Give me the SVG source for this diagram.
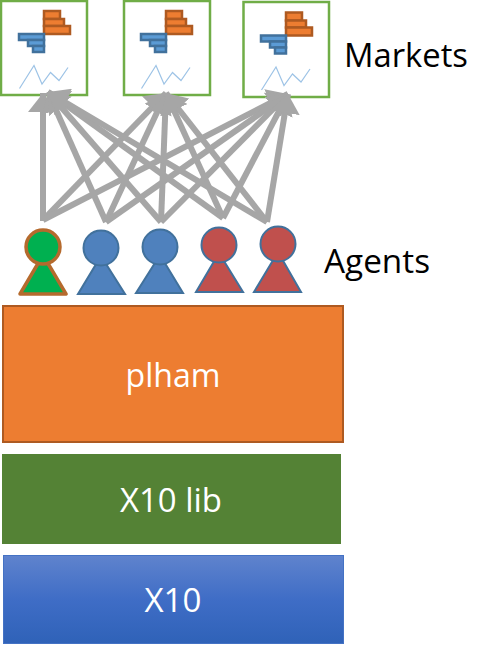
<svg xmlns="http://www.w3.org/2000/svg" xmlns:xlink="http://www.w3.org/1999/xlink" width="492" height="645" viewBox="0 0 492 645">
<style>
.frame{fill:#fff;stroke:#70ad47;stroke-width:2.5}
.or{fill:#ed7d31;stroke:#ae5a21;stroke-width:2.500}
.bl{fill:#5b9bd5;stroke:#41719c;stroke-width:2.500}
.spark{fill:none;stroke:#9dc3e6;stroke-width:1.200}
.c{stroke:#a6a6a6;stroke-width:6;fill:none;marker-end:url(#ah)}
.lbl{font-family:"Open Sans","Liberation Sans",sans-serif;font-size:33px;fill:#000}
.blk{font-family:"Open Sans","Liberation Sans",sans-serif;font-size:33px;fill:#fff;text-anchor:middle}
.green{fill:#00b050;stroke:#b56a2d;stroke-width:3.5;stroke-linejoin:round}
.blue{fill:#4f81bd;stroke:#41719c;stroke-width:2}
.red{fill:#c0504d;stroke:#41719c;stroke-width:2}
</style>
<defs>
<marker id="ah" markerUnits="userSpaceOnUse" markerWidth="20" markerHeight="30" refX="19" refY="15" orient="auto">
<path d="M0 0L19 15L0 30Z" fill="#a6a6a6"/>
</marker>
<linearGradient id="g" x1="0" y1="0" x2="0" y2="1">
<stop offset="0" stop-color="#5f83cd"/>
<stop offset="0.5" stop-color="#3f6dc6"/>
<stop offset="1" stop-color="#2f62b8"/>
</linearGradient>
<g id="mk">
<rect class="or" x="44" y="11" width="16" height="8"/>
<rect class="or" x="44" y="19" width="20" height="7"/>
<rect class="or" x="44" y="26" width="26" height="8"/>
<rect class="bl" x="19" y="34" width="25" height="6"/>
<rect class="bl" x="28" y="40" width="16" height="6"/>
<rect class="bl" x="33" y="46" width="11" height="6"/>
<path class="spark" d="M19.5 88.5L34 65.5L42 84L50.5 72.5L59 80.5L68 67.5"/>
</g>
</defs>
<g id="market-1"><rect class="frame" x="1" y="1" width="86" height="94"/><use xlink:href="#mk"/></g>
<g id="market-2"><rect class="frame" x="124" y="1" width="86" height="94"/><use xlink:href="#mk" x="122"/></g>
<g id="market-3"><rect class="frame" x="243.500" y="2" width="85.500" height="95"/><use xlink:href="#mk" x="242" y="1.500"/></g>
<g id="connectors">
<path class="c" d="M43 221L43 93"/>
<path class="c" d="M43 220L166 93"/>
<path class="c" d="M43 220L288 94"/>
<path class="c" d="M106 222L48 92"/>
<path class="c" d="M106 222L166 93"/>
<path class="c" d="M106 222L288 94"/>
<path class="c" d="M161 222L48 92"/>
<path class="c" d="M161 222L166 93"/>
<path class="c" d="M161 222L288 94"/>
<path class="c" d="M223 218L48 92"/>
<path class="c" d="M223 218L166 93"/>
<path class="c" d="M223 218L288 94"/>
<path class="c" d="M267 222L48 92"/>
<path class="c" d="M267 222L166 93"/>
<path class="c" d="M267 222L288 94"/>
</g>
<g id="agent-1"><path class="green" d="M43 255L66 294L20 294Z"/><circle class="green" cx="43" cy="247" r="17"/></g>
<g id="agent-2"><path class="blue" d="M101 256L125 294L78 294Z"/><circle class="blue" cx="101" cy="248" r="17.500"/></g>
<g id="agent-3"><path class="blue" d="M160 255L183 293L136 293Z"/><circle class="blue" cx="160" cy="247" r="17.500"/></g>
<g id="agent-4"><path class="red" d="M219 253L243 292L196 292Z"/><circle class="red" cx="219" cy="245" r="17.500"/></g>
<g id="agent-5"><path class="red" d="M278 252L301 292L254 292Z"/><circle class="red" cx="278" cy="244" r="17.500"/></g>
<g id="label-markets"><text class="lbl" x="344" y="67" textLength="124" lengthAdjust="spacingAndGlyphs">Markets</text></g>
<g id="label-agents"><text class="lbl" x="324" y="273" textLength="106" lengthAdjust="spacingAndGlyphs">Agents</text></g>
<g id="plham"><rect x="3" y="306" width="340" height="136" fill="#ed7d31" stroke="#ae5a21" stroke-width="2"/><text class="blk" x="173" y="387" textLength="95" lengthAdjust="spacingAndGlyphs">plham</text></g>
<g id="x10lib"><rect x="2" y="454" width="339" height="90" fill="#548235"/><text class="blk" x="171" y="512" textLength="102" lengthAdjust="spacingAndGlyphs">X10 lib</text></g>
<g id="x10"><rect x="3.500" y="555.500" width="340" height="88" fill="url(#g)" stroke="#4472c4"/><text class="blk" x="173" y="612" textLength="57" lengthAdjust="spacingAndGlyphs">X10</text></g>
</svg>
